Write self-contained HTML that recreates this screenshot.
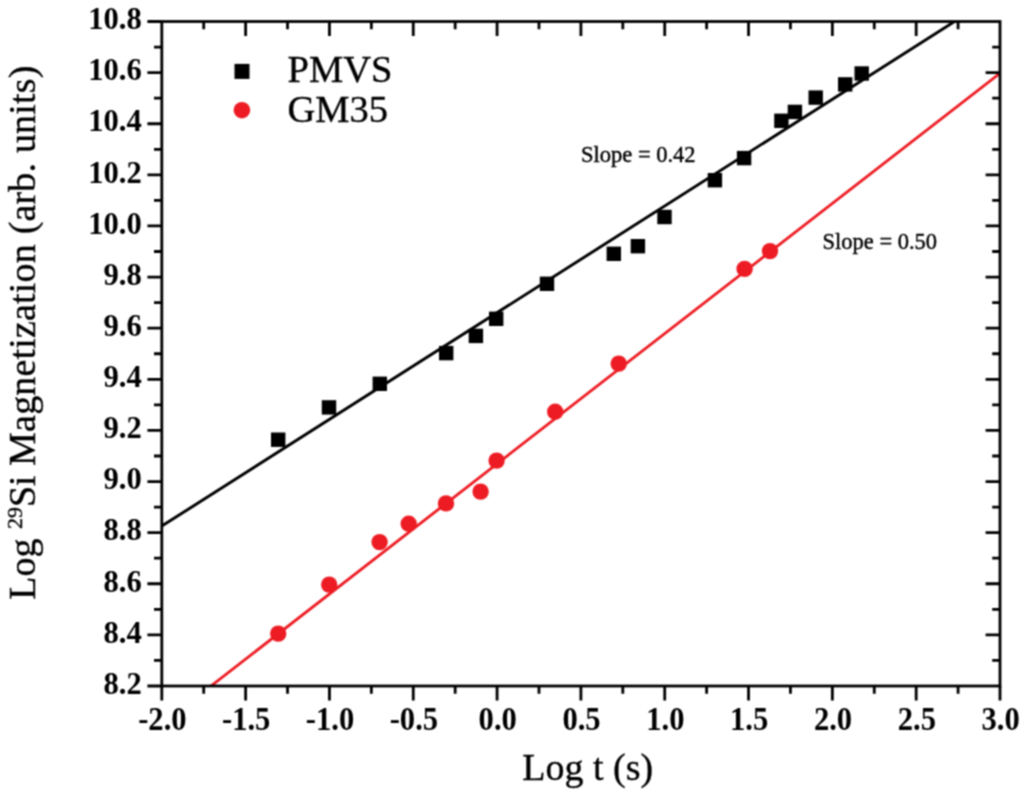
<!DOCTYPE html>
<html lang="en"><head><meta charset="utf-8"><title>Log 29Si Magnetization vs Log t</title>
<style>html,body{margin:0;padding:0;background:#fff}svg{display:block}</style></head>
<body>
<svg width="1024" height="793" viewBox="0 0 1024 793">
<defs><filter id="soft" x="0" y="0" width="1024" height="793" filterUnits="userSpaceOnUse" color-interpolation-filters="sRGB"><feConvolveMatrix order="3" kernelMatrix="1 2 1 2 4 2 1 2 1" divisor="16" edgeMode="duplicate" preserveAlpha="true"/></filter></defs>
<g filter="url(#soft)">
<rect width="1024" height="793" fill="#fff"/>
<clipPath id="c"><rect x="161.8" y="21.5" width="838.2" height="664.5"/></clipPath>
<g clip-path="url(#c)" fill="none" stroke-linecap="butt">
<line x1="142" y1="538.68" x2="974.4" y2="8.87" stroke="#000" stroke-width="2.9"/>
<line x1="191" y1="701.53" x2="1020" y2="57.67" stroke="#ed1c24" stroke-width="2.8"/>
</g>
<g stroke="#000" stroke-width="2.8" fill="none" stroke-linecap="butt">
<rect x="161.8" y="21.5" width="838.2" height="664.5"/>
<path d="M161.80 686.0v14.4M203.71 686.0v7.8M203.71 21.5v7.8M245.62 686.0v14.4M245.62 21.5v14.4M287.53 686.0v7.8M287.53 21.5v7.8M329.44 686.0v14.4M329.44 21.5v14.4M371.35 686.0v7.8M371.35 21.5v7.8M413.26 686.0v14.4M413.26 21.5v14.4M455.17 686.0v7.8M455.17 21.5v7.8M497.08 686.0v14.4M497.08 21.5v14.4M538.99 686.0v7.8M538.99 21.5v7.8M580.90 686.0v14.4M580.90 21.5v14.4M622.81 686.0v7.8M622.81 21.5v7.8M664.72 686.0v14.4M664.72 21.5v14.4M706.63 686.0v7.8M706.63 21.5v7.8M748.54 686.0v14.4M748.54 21.5v14.4M790.45 686.0v7.8M790.45 21.5v7.8M832.36 686.0v14.4M832.36 21.5v14.4M874.27 686.0v7.8M874.27 21.5v7.8M916.18 686.0v14.4M916.18 21.5v14.4M958.09 686.0v7.8M958.09 21.5v7.8M1000.00 686.0v14.4M161.8 686.00h-14.4M161.8 660.44h-7.8M1000.0 660.44h-7.8M161.8 634.88h-14.4M1000.0 634.88h-14.4M161.8 609.33h-7.8M1000.0 609.33h-7.8M161.8 583.77h-14.4M1000.0 583.77h-14.4M161.8 558.21h-7.8M1000.0 558.21h-7.8M161.8 532.65h-14.4M1000.0 532.65h-14.4M161.8 507.10h-7.8M1000.0 507.10h-7.8M161.8 481.54h-14.4M1000.0 481.54h-14.4M161.8 455.98h-7.8M1000.0 455.98h-7.8M161.8 430.42h-14.4M1000.0 430.42h-14.4M161.8 404.87h-7.8M1000.0 404.87h-7.8M161.8 379.31h-14.4M1000.0 379.31h-14.4M161.8 353.75h-7.8M1000.0 353.75h-7.8M161.8 328.19h-14.4M1000.0 328.19h-14.4M161.8 302.63h-7.8M1000.0 302.63h-7.8M161.8 277.08h-14.4M1000.0 277.08h-14.4M161.8 251.52h-7.8M1000.0 251.52h-7.8M161.8 225.96h-14.4M1000.0 225.96h-14.4M161.8 200.40h-7.8M1000.0 200.40h-7.8M161.8 174.85h-14.4M1000.0 174.85h-14.4M161.8 149.29h-7.8M1000.0 149.29h-7.8M161.8 123.73h-14.4M1000.0 123.73h-14.4M161.8 98.17h-7.8M1000.0 98.17h-7.8M161.8 72.62h-14.4M1000.0 72.62h-14.4M161.8 47.06h-7.8M1000.0 47.06h-7.8M161.8 21.50h-14.4"/>
</g>
<g font-family="'Liberation Serif', serif" font-weight="bold" font-size="30" fill="#000">
<text transform="translate(162.4 729.5) scale(1.02 1.09)" text-anchor="middle">-2.0</text>
<text transform="translate(246.2 729.5) scale(1.02 1.09)" text-anchor="middle">-1.5</text>
<text transform="translate(330.0 729.5) scale(1.02 1.09)" text-anchor="middle">-1.0</text>
<text transform="translate(413.9 729.5) scale(1.02 1.09)" text-anchor="middle">-0.5</text>
<text transform="translate(497.7 729.5) scale(1.02 1.09)" text-anchor="middle">0.0</text>
<text transform="translate(581.5 729.5) scale(1.02 1.09)" text-anchor="middle">0.5</text>
<text transform="translate(665.3 729.5) scale(1.02 1.09)" text-anchor="middle">1.0</text>
<text transform="translate(749.1 729.5) scale(1.02 1.09)" text-anchor="middle">1.5</text>
<text transform="translate(833.0 729.5) scale(1.02 1.09)" text-anchor="middle">2.0</text>
<text transform="translate(916.8 729.5) scale(1.02 1.09)" text-anchor="middle">2.5</text>
<text transform="translate(1000.6 729.5) scale(1.02 1.09)" text-anchor="middle">3.0</text>
<text transform="translate(141.8 693.7) scale(1.02 1.08)" text-anchor="end">8.2</text>
<text transform="translate(141.8 642.6) scale(1.02 1.08)" text-anchor="end">8.4</text>
<text transform="translate(141.8 591.5) scale(1.02 1.08)" text-anchor="end">8.6</text>
<text transform="translate(141.8 540.4) scale(1.02 1.08)" text-anchor="end">8.8</text>
<text transform="translate(141.8 489.2) scale(1.02 1.08)" text-anchor="end">9.0</text>
<text transform="translate(141.8 438.1) scale(1.02 1.08)" text-anchor="end">9.2</text>
<text transform="translate(141.8 387.0) scale(1.02 1.08)" text-anchor="end">9.4</text>
<text transform="translate(141.8 335.9) scale(1.02 1.08)" text-anchor="end">9.6</text>
<text transform="translate(141.8 284.8) scale(1.02 1.08)" text-anchor="end">9.8</text>
<text transform="translate(141.8 233.7) scale(1.02 1.08)" text-anchor="end">10.0</text>
<text transform="translate(141.8 182.5) scale(1.02 1.08)" text-anchor="end">10.2</text>
<text transform="translate(141.8 131.4) scale(1.02 1.08)" text-anchor="end">10.4</text>
<text transform="translate(141.8 80.3) scale(1.02 1.08)" text-anchor="end">10.6</text>
<text transform="translate(141.8 29.2) scale(1.02 1.08)" text-anchor="end">10.8</text>
</g>
<g fill="#000">
<rect x="271.0" y="432.5" width="14.4" height="14.4"/>
<rect x="321.8" y="400.2" width="14.4" height="14.4"/>
<rect x="372.6" y="376.6" width="14.4" height="14.4"/>
<rect x="439.0" y="345.9" width="14.4" height="14.4"/>
<rect x="468.7" y="328.7" width="14.4" height="14.4"/>
<rect x="489.0" y="311.6" width="14.4" height="14.4"/>
<rect x="539.8" y="276.6" width="14.4" height="14.4"/>
<rect x="606.6" y="246.6" width="14.4" height="14.4"/>
<rect x="630.7" y="239.0" width="14.4" height="14.4"/>
<rect x="657.3" y="209.8" width="14.4" height="14.4"/>
<rect x="707.7" y="173.0" width="14.4" height="14.4"/>
<rect x="736.9" y="150.9" width="14.4" height="14.4"/>
<rect x="774.2" y="113.6" width="14.4" height="14.4"/>
<rect x="787.7" y="104.7" width="14.4" height="14.4"/>
<rect x="808.5" y="90.4" width="14.4" height="14.4"/>
<rect x="838.0" y="77.2" width="14.4" height="14.4"/>
<rect x="854.5" y="66.3" width="14.4" height="14.4"/>
<rect x="234.5" y="63.900000000000006" width="15" height="15"/>
</g>
<g fill="#ed1c24">
<circle cx="278.2" cy="633.6" r="8.2"/>
<circle cx="329.2" cy="584.6" r="8.2"/>
<circle cx="379.6" cy="542.1" r="8.2"/>
<circle cx="408.7" cy="523.7" r="8.2"/>
<circle cx="446" cy="503.4" r="8.2"/>
<circle cx="480.6" cy="491.6" r="8.2"/>
<circle cx="496.6" cy="460.6" r="8.2"/>
<circle cx="555.2" cy="411.8" r="8.2"/>
<circle cx="618.7" cy="363.6" r="8.2"/>
<circle cx="744.6" cy="268.9" r="8.2"/>
<circle cx="770" cy="251.1" r="8.2"/>
<circle cx="241.9" cy="110.2" r="8.3"/>
</g>
<g font-family="'Liberation Serif', serif" fill="#000" stroke="#000" stroke-width="0.35">
<text x="287.5" y="82" font-size="38.5">PMVS</text>
<text x="287.5" y="122" font-size="38.5">GM35</text>
<text x="581" y="161.7" font-size="22.5" stroke-width="0.4">Slope = 0.42</text>
<text x="822.5" y="248.5" font-size="22.5" stroke-width="0.4">Slope = 0.50</text>
<text x="587.7" y="780.3" font-size="38" text-anchor="middle">Log t (s)</text>
<text transform="translate(35.2 599.8) rotate(-90)" font-size="38">Log <tspan font-size="22" dy="-13">29</tspan><tspan dy="13">Si </tspan><tspan letter-spacing="0.18">Magnetization (arb. units)</tspan></text>
</g>
</g>
</svg>
</body></html>
